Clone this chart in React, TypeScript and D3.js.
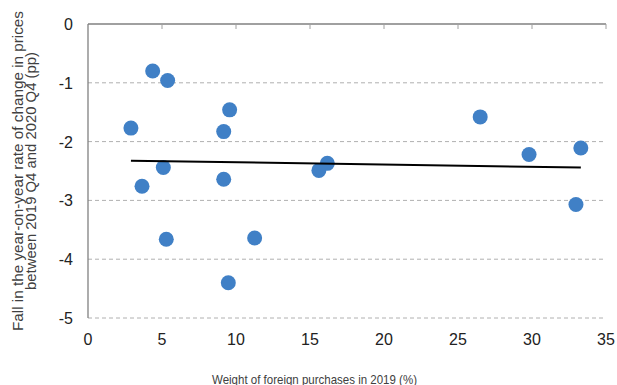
import { useEffect, useRef } from 'react'
import * as d3 from 'd3'

// weight of foreign purchases in 2019 (%)
const weights = [2.9, 4.37, 5.38, 9.57, 9.17, 5.09, 3.65, 9.17, 5.29, 11.26, 9.48, 15.6, 16.17, 26.5, 29.8, 33.3, 32.97]
// fall in y-o-y rate of change in prices (pp)
const falls = [-1.77, -0.8, -0.96, -1.46, -1.83, -2.44, -2.76, -2.64, -3.66, -3.64, -4.4, -2.49, -2.37, -1.58, -2.22, -2.11, -3.07]

const xTicks = [0, 5, 10, 15, 20, 25, 30, 35]
const yTicks = [0, -1, -2, -3, -4, -5]

const W = 617
const H = 385

export default function App() {
    const svgRef = useRef<SVGSVGElement>(null)

    useEffect(() => {
        if (!svgRef.current) return
        const svg = d3.select(svgRef.current)
        svg.selectAll('*').remove()

        const left = 88, right = 606, top = 24, bottom = 318
        const x = d3.scaleLinear().domain([0, 35]).range([left, right])
        const y = d3.scaleLinear().domain([-5, 0]).range([bottom, top])
        const font = 'Liberation Sans, Arial, sans-serif'

        // gridlines
        svg.append('g')
            .selectAll('line')
            .data(yTicks.filter(d => d !== 0))
            .enter()
            .append('line')
            .attr('x1', left)
            .attr('x2', right)
            .attr('y1', d => y(d))
            .attr('y2', d => y(d))
            .attr('stroke', '#b0b0b0')
            .attr('stroke-width', 1)
            .attr('stroke-dasharray', '4,3')

        // left axis line
        svg.append('line')
            .attr('x1', left).attr('x2', left)
            .attr('y1', top).attr('y2', bottom)
            .attr('stroke', '#808080')
            .attr('stroke-width', 1.3)

        // x axis drawn at y=0 with ticks pointing down
        svg.append('line')
            .attr('x1', left).attr('x2', right)
            .attr('y1', y(0)).attr('y2', y(0))
            .attr('stroke', '#808080')
            .attr('stroke-width', 1.3)
        svg.append('g')
            .selectAll('line')
            .data(xTicks.filter(d => d !== 0))
            .enter()
            .append('line')
            .attr('x1', d => x(d)).attr('x2', d => x(d))
            .attr('y1', y(0)).attr('y2', y(0) + 5)
            .attr('stroke', '#a0a0a0')
            .attr('stroke-width', 1)

        // tick labels
        svg.append('g')
            .selectAll('text')
            .data(xTicks)
            .enter()
            .append('text')
            .attr('x', d => x(d))
            .attr('y', 345)
            .attr('text-anchor', 'middle')
            .style('font-family', font)
            .style('font-size', '16px')
            .style('fill', '#222')
            .text(d => d)

        svg.append('g')
            .selectAll('text')
            .data(yTicks)
            .enter()
            .append('text')
            .attr('x', 73)
            .attr('y', d => y(d) + 6)
            .attr('text-anchor', 'end')
            .style('font-family', font)
            .style('font-size', '16px')
            .style('fill', '#222')
            .text(d => d)

        // axis titles (fit to the lengths in the source)
        svg.append('text')
            .attr('x', 212)
            .attr('y', 383.5)
            .attr('textLength', 205)
            .attr('lengthAdjust', 'spacingAndGlyphs')
            .style('font-family', font)
            .style('font-size', '13.5px')
            .style('fill', '#404040')
            .text('Weight of foreign purchases in 2019 (%)')

        const yt = svg.append('text')
            .attr('transform', 'translate(0,171) rotate(-90)')
            .attr('text-anchor', 'middle')
            .style('font-family', font)
            .style('font-size', '14px')
            .style('fill', '#404040')
        yt.append('tspan').attr('x', 0).attr('y', 22.5)
            .attr('textLength', 320).attr('lengthAdjust', 'spacingAndGlyphs')
            .text('Fall in the year-on-year rate of change in prices')
        yt.append('tspan').attr('x', 0).attr('y', 35.5)
            .attr('textLength', 238).attr('lengthAdjust', 'spacingAndGlyphs')
            .text('between 2019 Q4 and 2020 Q4 (pp)')

        // points
        const pts = weights.map((w, i) => ({ w, f: falls[i] }))
        svg.append('g')
            .selectAll('circle')
            .data(pts)
            .enter()
            .append('circle')
            .attr('cx', d => x(d.w))
            .attr('cy', d => y(d.f))
            .attr('r', 7.5)
            .style('fill', '#4080c6')

        // linear trend line
        const mx = d3.mean(weights)!
        const my = d3.mean(falls)!
        const slope = d3.sum(pts, d => (d.w - mx) * (d.f - my)) / d3.sum(pts, d => (d.w - mx) ** 2)
        const x0 = d3.min(weights)!, x1 = d3.max(weights)!
        svg.append('line')
            .attr('x1', x(x0))
            .attr('x2', x(x1))
            .attr('y1', y(my + slope * (x0 - mx)))
            .attr('y2', y(my + slope * (x1 - mx)))
            .attr('stroke', 'black')
            .attr('stroke-width', 2)
    }, [])

    return (
        <svg ref={svgRef} width={W} height={H} style={{ position: 'absolute', left: 0, top: 0, background: 'white' }}></svg>
    )
}
